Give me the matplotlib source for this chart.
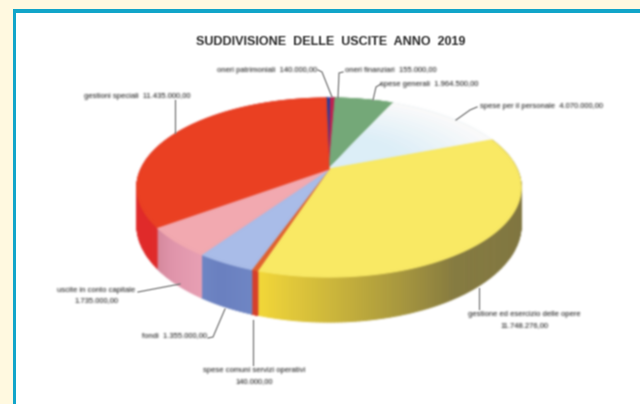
import numpy as np
import matplotlib
matplotlib.use("Agg")
import matplotlib.pyplot as plt
from matplotlib.collections import PolyCollection
from matplotlib.colors import to_rgb
from matplotlib.patches import Rectangle

# dati (in senso orario dall'alto)
voci = ["oneri patrimoniali", "oneri finanziari", "spese generali",
        "spese per il personale", "gestione ed esercizio delle opere",
        "spese comuni servizi operativi", "fondi",
        "uscite in conto capitale", "gestioni speciali"]
importi = [140000, 155000, 1964500, 4070000, 11748276,
           140000, 1355000, 1735000, 11435000]
importi_txt = ["140.000,00", "155.000,00", "1.964.500,00", "4.070.000,00",
               "11.748.276,00", "140.000,00", "1.355.000,00", "1.735.000,00",
               "11.435.000,00"]

col_top = ["#1f3f9f", "#c02050", "#74a878", "#dceef7", "#f9e964",
           "#e0602f", "#a9bce8", "#f2a9b0", "#ea4022"]
# fianco: inizio, meta', fine (solo quelli visibili contano)
col_side = [("#1f3f9f",) * 3, ("#c02050",) * 3, ("#74a878",) * 3, ("#dceef7",) * 3,
            ("#7a7040", "#857a40", "#f4d838"), ("#d8402a",) * 3,
            ("#6f86c4", "#6a80c0", "#6f86c4"), ("#e8a0b4", "#e095ab", "#d5889c"),
            ("#e02a2a",) * 3]

# geometria: centro delle fette e prospettiva
cx, cy = 329, 169
a, b, k = 188, 85.7, 0.207
depth = 35.7
start = -1.0


def project(theta, r=1.0, d=0.0):
    u = r * np.sin(theta)
    v = r * np.cos(theta)
    s = 1 / (1 + k * v)
    return cx + a * u * s, cy - b * v * s + d * s


def blur(img, dpi, kern=(1, 2, 1)):
    # sfocatura leggera, il riferimento e' una scansione sgranata
    pad = 3
    img = np.pad(img, ((pad, pad), (pad, pad), (0, 0)))
    kern = np.array(kern) / sum(kern)
    alpha = img[..., 3]
    rgb = img[..., :3] * alpha[..., None]
    stack = np.dstack([rgb, alpha])
    for ax_ in (0, 1):
        stack = np.apply_along_axis(lambda m: np.convolve(m, kern, mode="same"), ax_, stack)
    out = np.zeros_like(img)
    al = stack[..., 3]
    out[..., :3] = stack[..., :3] / np.maximum(al[..., None], 1e-4)
    out[..., 3] = al
    return np.clip(out, 0, 1), -pad, -pad


def blur_txt(img, dpi):
    return blur(img, dpi, kern=(1, 4, 6, 4, 1))


fig = plt.figure(figsize=(6.4, 4.04), dpi=100)
ax = fig.add_axes([0, 0, 1, 1])
ax.set_xlim(0, 640)
ax.set_ylim(404, 0)
ax.axis("off")
fig.patch.set_facecolor("#fff9e0")

ax.add_patch(Rectangle((13, 9), 640, 410, fc="#12a5c9", ec="none"))
ax.add_patch(Rectangle((16, 12.5), 640, 410, fc="white", ec="none"))

plt.rcParams["font.family"] = ["Liberation Sans", "DejaVu Sans"]

quote = np.cumsum([0] + importi) / sum(importi) * 2 * np.pi + np.radians(start)
polys, colors = [], []

# fianchi, a strisce per avere la sfumatura
for i in range(len(importi)):
    tt = np.linspace(quote[i], quote[i + 1], 150)
    stops = np.array([to_rgb(c) for c in col_side[i]])
    for j in range(len(tt) - 1):
        f = (j + 0.5) / (len(tt) - 1)
        c = [np.interp(f, [0, 0.6, 1], stops[:, n]) for n in range(3)]
        x1, y1 = project(tt[j:j + 2])
        x2, y2 = project(tt[j:j + 2], d=depth)
        polys.append(np.column_stack([np.r_[x1, x2[::-1]], np.r_[y1, y2[::-1]]]))
        colors.append(c)

# faccia superiore
for i in range(len(importi)):
    tt = np.linspace(quote[i], quote[i + 1], 80)
    if voci[i] == "spese per il personale":
        # sfuma verso il bianco sul bordo esterno
        rr = np.linspace(1, 0.05, 14)
        for r in rr:
            x, y = project(tt, r=r)
            polys.append(np.column_stack([np.r_[cx, x], np.r_[cy, y]]))
            f = min(1, (1 - r) / 0.55)
            colors.append([np.interp(f, [0, 1], [0.98, c]) for c in to_rgb(col_top[i])])
    else:
        x, y = project(tt)
        polys.append(np.column_stack([np.r_[cx, x], np.r_[cy, y]]))
        colors.append(to_rgb(col_top[i]))

torta = PolyCollection(polys, facecolors=colors, edgecolors=colors, linewidths=0.8)
torta.set_agg_filter(blur)
ax.add_collection(torta)

# etichette: centro x, y, due righe o una
pos_testo = [(267, 70, 1), (391, 70, 1), (429, 84, 1), (541, 107, 1), (524, 315, 2),
             (254, 371, 2), (175, 336, 1), (96, 290, 2), (137, 97, 1)]
guide = [([318, 322, 332], [70, 72, 97]),
         ([343, 339, 338], [72, 73, 98]),
         ([381, 376, 373], [84, 87, 100]),
         ([477, 470, 456], [107, 110, 120]),
         ([479, 479], [288, 309]),
         ([253, 253], [320, 365]),
         ([208, 213, 225], [338, 337, 309]),
         ([138, 180], [292, 284]),
         ([175, 175], [100, 133])]

for i in range(len(voci)):
    px, py, righe = pos_testo[i]
    if righe == 1:
        t = ax.text(px, py, voci[i] + "  " + importi_txt[i], ha="center", va="center",
                    fontsize=5.5, color="#111111")
        t.set_agg_filter(blur_txt)
    else:
        t = ax.text(px, py, voci[i], ha="center", va="center", fontsize=5.5, color="#111111")
        t2 = ax.text(px, py + 10.5, importi_txt[i], ha="center", va="center", fontsize=5.5,
                     color="#111111")
        t.set_agg_filter(blur_txt)
        t2.set_agg_filter(blur_txt)
    ln, = ax.plot(guide[i][0], guide[i][1], color="#777777", lw=0.9)
    ln.set_agg_filter(blur)

tit = ax.text(331, 42, "SUDDIVISIONE  DELLE  USCITE  ANNO  2019", ha="center", va="center",
              fontsize=9, fontweight="bold", color="#2a2a2a")
tit.set_agg_filter(blur)

fig.savefig("out.png", dpi=100, facecolor=fig.get_facecolor())
